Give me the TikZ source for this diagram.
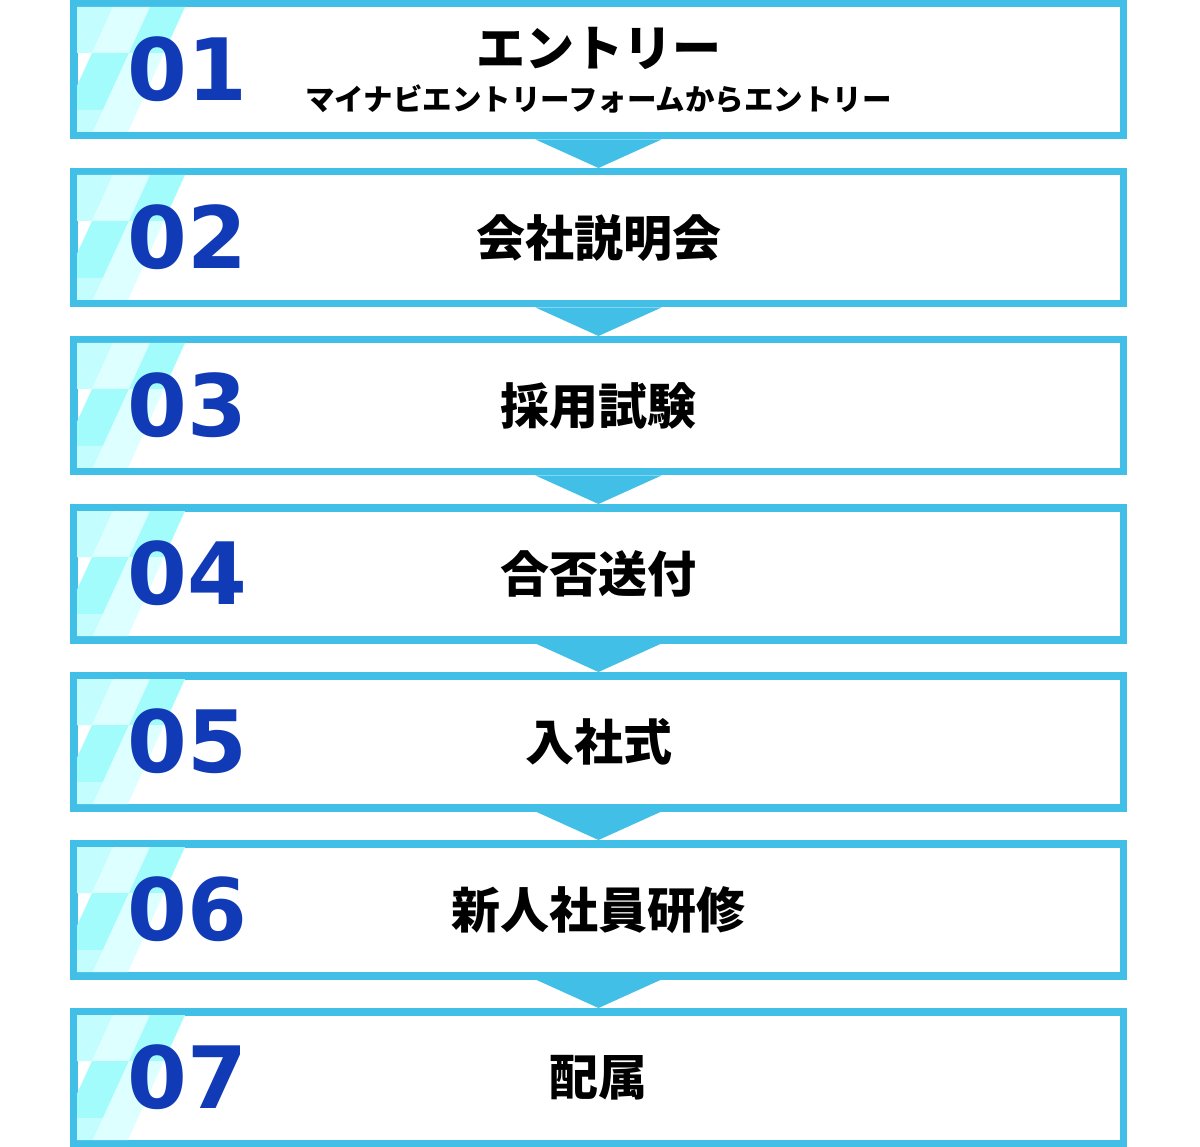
\documentclass[tikz,border=0pt]{standalone}
\usepackage{fontspec}
\newfontfamily\jpfont{Noto Sans CJK JP}
\newfontfamily\numfont{DejaVu Sans}

\newlength{\du}
\setlength{\du}{1\unitlength}

\definecolor{framecolor}{rgb}{0.258824, 0.749020, 0.905882}
\definecolor{numcolor}{rgb}{0.066667, 0.227451, 0.717647}
\definecolor{tilebright}{rgb}{0.639216, 0.988235, 0.988235}
\definecolor{tilemid}{rgb}{0.768627, 0.992157, 0.992157}
\definecolor{tilepale}{rgb}{0.870588, 1.000000, 1.000000}

\tikzset{
  stepframe/.style={draw=framecolor, fill=white, line width=7.5\du,
    minimum width=1049.5\du, minimum height=132\du, inner sep=0pt},
  stepnum/.style={text=numcolor, inner sep=0pt,
    font=\numfont\bfseries\fontsize{86}{90}\selectfont},
  steptitle/.style={text=black, inner sep=0pt,
    font=\jpfont\bfseries\fontsize{49}{54}\selectfont},
  stepnote/.style={text=black, inner sep=0pt,
    font=\jpfont\bfseries\fontsize{29.5}{33}\selectfont},
  steparrow/.style={fill=framecolor, draw=none}
}

% slanted tiles in the left part of a step box, #1 = top of the box
\newcommand{\stripetiles}[1]{%
\begin{scope}[yshift=#1\du]
\clip (77\du,7\du) rectangle (1119\du,132\du);
\fill[tilemid] (60\du,7\du) -- (113\du,7\du) -- (92\du,53\du) -- (60\du,53\du) -- cycle;
\fill[tilepale] (113\du,7\du) -- (150\du,7\du) -- (129\du,53\du) -- (92\du,53\du) -- cycle;
\fill[tilebright] (150\du,7\du) -- (185\du,7\du) -- (164\du,53\du) -- (129\du,53\du) -- cycle;
\fill[tilebright] (92\du,53\du) -- (129\du,53\du) -- (103\du,110\du) -- (66\du,110\du) -- cycle;
\fill[tilepale] (129\du,53\du) -- (164\du,53\du) -- (138\du,110\du) -- (103\du,110\du) -- cycle;
\fill[tilemid] (60\du,110\du) -- (103\du,110\du) -- (93\du,132\du) -- (60\du,132\du) -- cycle;
\fill[tilepale] (103\du,110\du) -- (138\du,110\du) -- (128\du,132\du) -- (93\du,132\du) -- cycle;
\end{scope}}

\begin{document}
\begin{tikzpicture}
\pgftransformxscale{1.000000}
\pgftransformyscale{-1.000000}
\useasboundingbox (0\du,0\du) rectangle (1200\du,1147\du);
% step 01
\node[stepframe] (box1) at (598.500000\du,69.750000\du){};
\stripetiles{0.000000}
\node[stepnum] (num1) at (187.000000\du,69.000000\du){01};
\node[steptitle] (title1) at (598.500000\du,48.000000\du){エントリー};
\node[stepnote] (note1) at (598.500000\du,99.000000\du){マイナビエントリーフォームからエントリー};
% step 02
\node[stepframe] (box2) at (598.500000\du,237.750000\du){};
\stripetiles{168.000000}
\node[stepnum] (num2) at (187.000000\du,237.000000\du){02};
\node[steptitle] (title2) at (598.500000\du,237.750000\du){会社説明会};
% step 03
\node[stepframe] (box3) at (598.500000\du,405.750000\du){};
\stripetiles{336.000000}
\node[stepnum] (num3) at (187.000000\du,405.000000\du){03};
\node[steptitle] (title3) at (598.500000\du,405.750000\du){採用試験};
% step 04
\node[stepframe] (box4) at (598.500000\du,573.750000\du){};
\stripetiles{504.000000}
\node[stepnum] (num4) at (187.000000\du,573.000000\du){04};
\node[steptitle] (title4) at (598.500000\du,573.750000\du){合否送付};
% step 05
\node[stepframe] (box5) at (598.500000\du,741.750000\du){};
\stripetiles{672.000000}
\node[stepnum] (num5) at (187.000000\du,741.000000\du){05};
\node[steptitle] (title5) at (598.500000\du,741.750000\du){入社式};
% step 06
\node[stepframe] (box6) at (598.500000\du,909.750000\du){};
\stripetiles{840.000000}
\node[stepnum] (num6) at (187.000000\du,909.000000\du){06};
\node[steptitle] (title6) at (598.500000\du,909.750000\du){新人社員研修};
% step 07
\node[stepframe] (box7) at (598.500000\du,1077.750000\du){};
\stripetiles{1008.000000}
\node[stepnum] (num7) at (187.000000\du,1077.000000\du){07};
\node[steptitle] (title7) at (598.500000\du,1077.750000\du){配属};
% arrows between the steps
\fill[steparrow] (box1.south) ++(-63\du,0) -- ++(126\du,0) -- (box2.north) -- cycle;
\fill[steparrow] (box2.south) ++(-63\du,0) -- ++(126\du,0) -- (box3.north) -- cycle;
\fill[steparrow] (box3.south) ++(-63\du,0) -- ++(126\du,0) -- (box4.north) -- cycle;
\fill[steparrow] (box4.south) ++(-63\du,0) -- ++(126\du,0) -- (box5.north) -- cycle;
\fill[steparrow] (box5.south) ++(-63\du,0) -- ++(126\du,0) -- (box6.north) -- cycle;
\fill[steparrow] (box6.south) ++(-63\du,0) -- ++(126\du,0) -- (box7.north) -- cycle;
\end{tikzpicture}
\end{document}
